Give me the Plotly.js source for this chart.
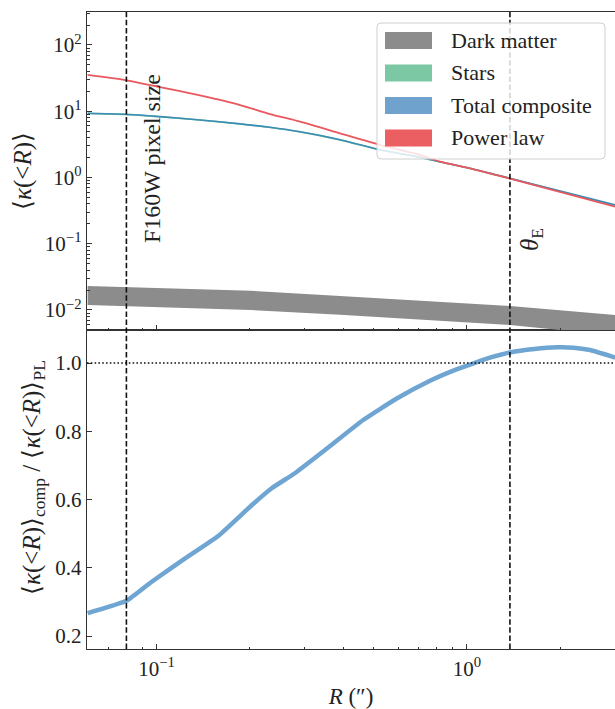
<!DOCTYPE html>
<html>
<head>
<meta charset="utf-8">
<script src="https://cdn.plot.ly/plotly-3.0.1.min.js"></script>
<style>html,body{margin:0;padding:0;background:#fff;}#chart{width:615px;height:709px;}</style>
</head>
<body>
<div id="chart"></div>
<script>
// ---------------- data ----------------
// Top panel: mean convergence within R
var R_top = [0.06, 0.0792, 0.1026, 0.138, 0.186, 0.232, 0.29, 0.39, 0.5245, 0.706, 0.818, 1.022, 1.375, 3.0];
var kappa_powerlaw = [35.3, 29.6, 23.2, 17.3, 12.4, 9.08, 6.95, 4.64, 3.10, 2.19, 1.73, 1.377, 0.96, 0.362];
var kappa_composite = [9.31, 8.99, 8.28, 7.38, 6.45, 5.72, 4.90, 3.72, 2.62, 2.02, 1.73, 1.377, 0.975, 0.385];
var kappa_stars = [9.29, 8.97, 8.26, 7.36, 6.43, 5.70, 4.88, 3.70, 2.61, 2.01, 1.72, 1.367, 0.965, 0.377];
// Dark matter band (lower / upper)
var R_dm = [0.06, 0.201, 0.39, 1.375, 1.99, 3.0];
var dm_upper = [0.0230, 0.01954, 0.01626, 0.01148, 0.0099, 0.0084];
var dm_lower = [0.0119, 0.0100, 0.0085, 0.00594, 0.0050, 0.0041];
// Bottom panel: ratio composite / power law
var R_ratio = [0.06, 0.08, 0.0965, 0.124, 0.158, 0.203, 0.235, 0.279, 0.349, 0.463, 0.594, 0.76, 0.9, 1.05, 1.2, 1.375, 1.65, 1.95, 2.2, 2.49, 3.0];
var ratio = [0.267, 0.303, 0.359, 0.428, 0.493, 0.584, 0.633, 0.677, 0.745, 0.833, 0.896, 0.948, 0.977, 0.999, 1.017, 1.031, 1.041, 1.046, 1.045, 1.038, 1.016];
// Reference radii
var R_pixel = 0.08;     // F160W pixel size
var R_einstein = 1.375; // theta_E
// Tick labels
var topTickVals = [0.01, 0.1, 1, 10, 100];
var topTickText = ['10<sup>\u22122</sup>', '10<sup>\u22121</sup>', '10<sup>0</sup>', '10<sup>1</sup>', '10<sup>2</sup>'];
var xTickVals = [0.1, 1];
var xTickText = ['10<sup>\u22121</sup>', '10<sup>0</sup>'];
var botTickVals = [0.2, 0.4, 0.6, 0.8, 1.0];
var botTickText = ['0.2', '0.4', '0.6', '0.8', '1.0'];
var legendNames = ['Dark matter', 'Stars', 'Total composite', 'Power law'];
var legendColors = ['#8c8c8c', '#7cc8a5', '#6fa3ce', '#eb5e62'];

// ---------------- layout helpers ----------------
var W = 615, H = 709, L = 87, Rm = 0, T = 12, B = 60;
var PW = W - L - Rm, PH = H - T - B;
function px(xp) { return (xp - L) / PW; }
function py(yp) { return (H - B - yp) / PH; }
var split = (H - B - 330) / PH;

function minorLog(d0, d1) {
  var v = [];
  for (var d = d0; d <= d1; d++) for (var k = 2; k <= 9; k++) v.push(k * Math.pow(10, d));
  return v;
}

var FONT = 'Liberation Serif';
var TXT = '#222';
var AX = '#333';

var traces = [
  {x: R_dm, y: dm_lower, xaxis: 'x2', yaxis: 'y', mode: 'lines', line: {width: 0, color: '#8c8c8c'}, name: 'Dark matter lower', showlegend: false, hoverinfo: 'skip'},
  {x: R_dm, y: dm_upper, xaxis: 'x2', yaxis: 'y', mode: 'lines', fill: 'tonexty', fillcolor: '#8c8c8c', line: {width: 0, color: '#8c8c8c'}, name: 'Dark matter', showlegend: false},
  {x: R_top, y: kappa_stars, xaxis: 'x2', yaxis: 'y', mode: 'lines', line: {width: 1.6, color: '#7cc8a5', shape: 'spline', smoothing: 0.8}, name: 'Stars', showlegend: false},
  {x: R_top, y: kappa_composite, xaxis: 'x2', yaxis: 'y', mode: 'lines', line: {width: 1.6, color: '#3a8cb4', shape: 'spline', smoothing: 0.8}, name: 'Total composite', showlegend: false},
  {x: R_top, y: kappa_powerlaw, xaxis: 'x2', yaxis: 'y', mode: 'lines', line: {width: 1.8, color: '#e9585e', shape: 'spline', smoothing: 0.6}, name: 'Power law', showlegend: false},
  {x: R_ratio, y: ratio, xaxis: 'x', yaxis: 'y2', mode: 'lines', line: {width: 4.5, color: '#6fa5d2', shape: 'spline', smoothing: 0.4}, name: 'Ratio', showlegend: false}
];

var shapes = [
  {type: 'line', xref: 'x', yref: 'paper', x0: R_pixel, x1: R_pixel, y0: 0, y1: 1, layer: 'above', line: {color: '#111', width: 1.6, dash: '5.5px,2.6px'}},
  {type: 'line', xref: 'x', yref: 'paper', x0: R_einstein, x1: R_einstein, y0: 0, y1: 1, layer: 'above', line: {color: '#111', width: 1.6, dash: '5.5px,2.6px'}},
  {type: 'line', xref: 'paper', yref: 'y2', x0: 0, x1: 1, y0: 1, y1: 1, layer: 'above', line: {color: '#111', width: 1.6, dash: '1.6px,2.2px'}}
];

// manual legend box (rounded)
(function () {
  var x0 = 377, x1 = 605, y0 = 23, y1 = 159, r = 4;
  var rx = r / PW, ry = r / PH;
  var X0 = px(x0), X1 = px(x1), Yt = py(y0), Yb = py(y1);
  var p = 'M' + (X0 + rx) + ',' + Yt + ' L' + (X1 - rx) + ',' + Yt +
    ' Q' + X1 + ',' + Yt + ' ' + X1 + ',' + (Yt - ry) +
    ' L' + X1 + ',' + (Yb + ry) + ' Q' + X1 + ',' + Yb + ' ' + (X1 - rx) + ',' + Yb +
    ' L' + (X0 + rx) + ',' + Yb + ' Q' + X0 + ',' + Yb + ' ' + X0 + ',' + (Yb + ry) +
    ' L' + X0 + ',' + (Yt - ry) + ' Q' + X0 + ',' + Yt + ' ' + (X0 + rx) + ',' + Yt + ' Z';
  shapes.push({type: 'path', xref: 'paper', yref: 'paper', path: p, layer: 'above', fillcolor: 'rgba(255,255,255,0.82)', line: {color: '#cfcfcf', width: 1}});
})();

var annotations = [];
var rowTop = [32, 64.5, 97, 129.5];
for (var i = 0; i < legendNames.length; i++) {
  shapes.push({type: 'rect', xref: 'paper', yref: 'paper', x0: px(385), x1: px(432), y0: py(rowTop[i] + 17), y1: py(rowTop[i]), layer: 'above', fillcolor: legendColors[i], line: {width: 0}});
  annotations.push({xref: 'paper', yref: 'paper', x: px(449), y: py(rowTop[i] + 8.5), xanchor: 'left', yanchor: 'middle', showarrow: false, text: legendNames[i], font: {family: FONT, size: 22, color: TXT}});
}
annotations.push({xref: 'paper', yref: 'paper', x: px(152), y: py(159), xanchor: 'center', yanchor: 'middle', showarrow: false, textangle: -90, text: 'F160W pixel size', font: {family: FONT, size: 24, color: TXT}});
annotations.push({xref: 'paper', yref: 'paper', x: px(531), y: py(240), xanchor: 'center', yanchor: 'middle', showarrow: false, textangle: -90, text: '<i>\u03b8</i><sub>E</sub>', font: {family: FONT, size: 25, color: TXT}});
// bottom y-axis title (placed to match reference position)
annotations.push({xref: 'paper', yref: 'paper', x: px(33), y: py(478), xanchor: 'center', yanchor: 'middle', showarrow: false, textangle: -90,
  text: '\u27e8<i>\u03ba</i>(&lt;<i>R</i>)\u27e9<sub>comp</sub> / \u27e8<i>\u03ba</i>(&lt;<i>R</i>)\u27e9<sub>PL</sub>', font: {family: FONT, size: 25, color: TXT}});

var tickCommon = {ticks: 'inside', ticklen: 5, tickwidth: 1, tickcolor: AX, showline: true, linecolor: AX, linewidth: 1.3, showgrid: false, zeroline: false, tickfont: {family: FONT, size: 21, color: TXT}};

var layout = {
  width: W, height: H,
  margin: {l: L, r: Rm, t: T, b: B, pad: 0},
  paper_bgcolor: '#fff', plot_bgcolor: '#fff',
  showlegend: false,
  font: {family: FONT, color: TXT},
  xaxis: Object.assign({}, tickCommon, {
    type: 'log', range: [-1.2238, 0.4767], anchor: 'y2', domain: [0, 1], mirror: true,
    tickmode: 'array', tickvals: xTickVals, ticktext: xTickText,
    minor: {tickmode: 'array', tickvals: minorLog(-2, 0), ticks: 'inside', ticklen: 2.5, tickwidth: 1, tickcolor: AX},
    title: {text: '<i>R</i> (\u2033)', font: {family: FONT, size: 23, color: TXT}, standoff: 11}
  }),
  xaxis2: Object.assign({}, tickCommon, {
    type: 'log', range: [-1.2238, 0.4767], anchor: 'y', domain: [0, 1], mirror: true, matches: 'x', showticklabels: false,
    tickmode: 'array', tickvals: xTickVals, ticktext: xTickText,
    minor: {tickmode: 'array', tickvals: minorLog(-2, 0), ticks: 'inside', ticklen: 2.5, tickwidth: 1, tickcolor: AX}
  }),
  yaxis: Object.assign({}, tickCommon, {
    type: 'log', range: [-2.302, 2.498], anchor: 'x2', domain: [split, 1], mirror: false,
    tickmode: 'array', tickvals: topTickVals, ticktext: topTickText,
    minor: {tickmode: 'array', tickvals: minorLog(-3, 2), ticks: 'inside', ticklen: 2.5, tickwidth: 1, tickcolor: AX},
    title: {text: '\u27e8<i>\u03ba</i>(&lt;<i>R</i>)\u27e9', font: {family: FONT, size: 25, color: TXT}, standoff: 6}
  }),
  yaxis2: Object.assign({}, tickCommon, {
    range: [0.1619, 1.0967], anchor: 'x', domain: [0, split], mirror: false,
    tickmode: 'array', tickvals: botTickVals, ticktext: botTickText
  }),
  shapes: shapes,
  annotations: annotations
};

Plotly.newPlot('chart', traces, layout, {staticPlot: true, displayModeBar: false});
</script>
</body>
</html>
